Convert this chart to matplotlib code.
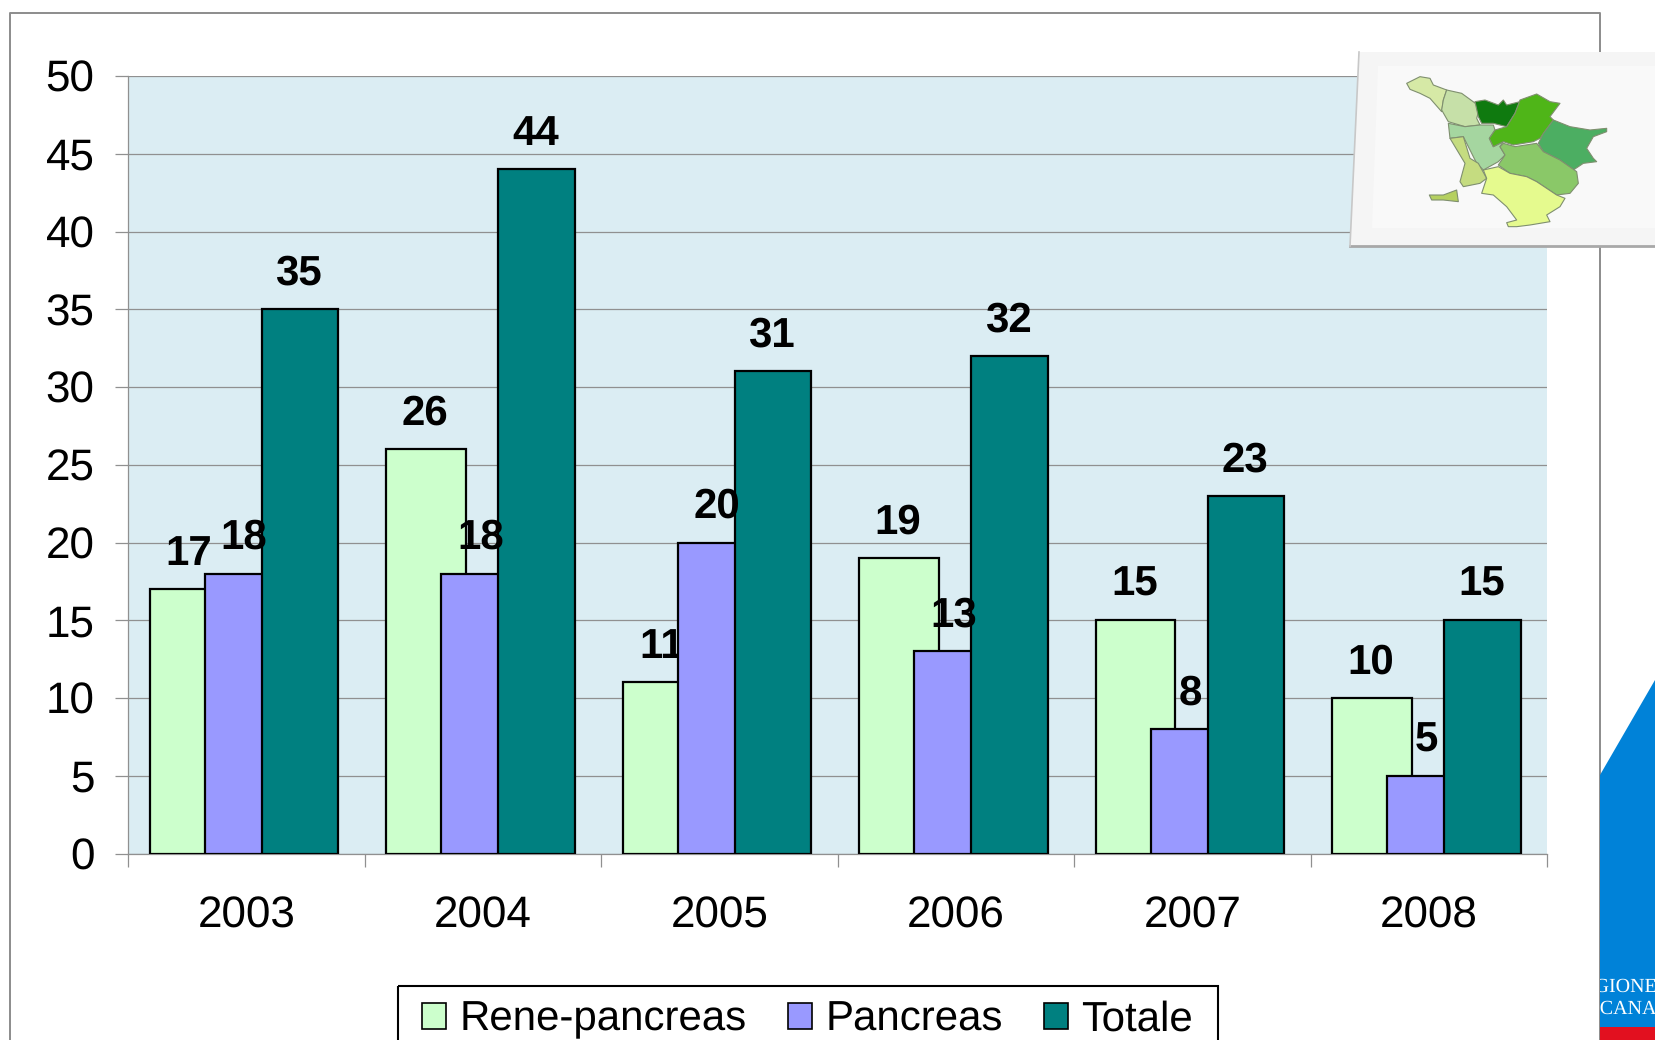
import matplotlib
matplotlib.use('Agg')
import matplotlib.pyplot as plt
from matplotlib.patches import Polygon, Rectangle
import numpy as np

W, H = 1655, 1040
DPI = 100

plt.rcParams['font.family'] = ['Liberation Sans', 'DejaVu Sans']
plt.rcParams['text.hinting'] = 'no_hinting'
plt.rcParams['text.hinting_factor'] = 1

years = ['2003', '2004', '2005', '2006', '2007', '2008']
rene_pancreas = [17, 26, 11, 19, 15, 10]
pancreas = [18, 18, 20, 13, 8, 5]
totale = [35, 44, 31, 32, 23, 15]

series_names = ['Rene-pancreas', 'Pancreas', 'Totale']
series_colors = ['#CCFFCC', '#9999FF', '#008080']
y_ticks = list(range(0, 55, 5))

# map regions (traced in zoom-crop pixels of the inset)
map_regions = [
    ('#d6e9a6', [(230,160),(270,140),(300,145),(310,165),(350,180),(340,210),(335,245),(300,205),(270,190),(240,178)]),
    ('#c6e0a8', [(350,180),(395,190),(450,230),(440,265),(450,285),(405,290),(355,275),(335,240),(340,210)]),
    ('#a5d6a0', [(355,280),(405,290),(450,285),(490,285),(495,300),(478,325),(490,350),(520,335),(510,350),(525,375),(505,395),(460,420),(440,400),(400,320),(360,325)]),
    ('#0f7a0f', [(435,215),(465,210),(505,225),(520,210),(530,225),(570,215),(555,250),(530,290),(490,280),(455,280),(445,260)]),
    ('#4fb518', [(570,210),(620,192),(660,215),(690,220),(660,260),(670,270),(630,325),(610,335),(550,345),(520,335),(490,350),(478,325),(495,300),(530,290),(555,250)]),
    ('#4cae62', [(670,270),(720,290),(780,300),(830,295),(830,305),(790,320),(770,355),(790,385),(800,395),(760,400),(730,420),(690,390),(640,365),(625,340),(640,310)]),
    ('#8ac868', [(520,340),(555,350),(620,340),(640,365),(690,390),(740,425),(745,460),(720,490),(680,495),(620,455),(590,440),(540,430),(505,405),(525,375),(510,350)]),
    ('#c5dc80', [(360,325),(400,320),(420,385),(445,400),(470,445),(450,460),(400,470),(390,455),(405,400)]),
    ('#b5d060', [(298,495),(340,495),(380,480),(385,515),(340,510),(305,510)]),
    ('#e5fa8e', [(460,420),(505,410),(540,430),(590,440),(620,455),(680,495),(705,505),(690,530),(650,555),(660,575),(600,585),(560,590),(535,590),(530,578),(560,570),(530,530),(490,495),(455,490),(470,445)]),
]

fig = plt.figure(figsize=(W / DPI, H / DPI), dpi=DPI, facecolor='white')

# full-figure overlay in pixel coordinates, y downwards
bg = fig.add_axes([0, 0, 1, 1], zorder=0)
bg.set_xlim(0, W)
bg.set_ylim(H, 0)
bg.axis('off')
bg.plot([10, 10, 1599.5, 1599.5], [H, 12.5, 12.5, H], color='#8c8c8c', lw=1.4)

# the chart
L, R, T, B = 128, 1547, 76, 853.5
ax = fig.add_axes([L / W, 1 - B / H, (R - L) / W, (B - T) / H], zorder=1)
ax.set_facecolor('#DBEDF3')
ax.set_xlim(0, len(years))
ax.set_ylim(0, 50)

x = np.arange(len(years))
bar_widths = [0.338, 0.325, 0.325]
offsets = [0.091, 0.325, 0.565]
label_shift = [0.165, 0.165, 0.157]
for i, vals in enumerate([rene_pancreas, pancreas, totale]):
    ax.bar(x + offsets[i], vals, width=bar_widths[i], align='edge', color=series_colors[i],
           edgecolor='black', linewidth=1.6, zorder=3 + i, label=series_names[i])
    # green labels sit under the purple bars, the others on top
    lab_z = 3.5 if i == 0 else 10
    for xi, v in zip(x, vals):
        ax.annotate(str(v), (xi + offsets[i] + label_shift[i], v), xytext=(0, 25.5),
                    textcoords='offset points', ha='center', va='center',
                    fontsize=30, fontweight='bold', color='black', zorder=lab_z)

ax.set_yticks(y_ticks)
ax.tick_params(axis='y', labelsize=31.5, length=9.5, width=0.9, color='#909090', pad=14.5)
for lab in ax.get_yticklabels():
    lab.set_verticalalignment('center_baseline')
ax.set_xticks(np.arange(len(years) + 1))
ax.set_xticklabels([])
ax.tick_params(axis='x', which='major', length=9.5, width=0.9, color='#909090')
ax.set_xticks(x + 0.5, minor=True)
ax.set_xticklabels(years, minor=True)
ax.tick_params(axis='x', which='minor', length=0, labelsize=31.5, pad=30.5)
ax.grid(axis='y', color='#909090', lw=0.9, zorder=1)
ax.set_axisbelow(True)
for side in ['top', 'right']:
    ax.spines[side].set_visible(False)
for side in ['left', 'bottom']:
    ax.spines[side].set_color('#909090')
    ax.spines[side].set_linewidth(0.9)

# legend, runs off the bottom edge like the slide crop
leg = ax.legend(loc='upper left', bbox_to_anchor=(422 / W, 1 - 1000 / H), bbox_transform=fig.transFigure,
                ncol=3, fontsize=29.9, frameon=False, borderaxespad=0, borderpad=0,
                handlelength=0.58, handleheight=0.6, handletextpad=0.33, columnspacing=0.98)
leg.set_zorder(20)
for h in leg.get_patches():
    h.set_edgecolor('black')
    h.set_linewidth(1.2)

# overlay for slide decoration above the chart
fg = fig.add_axes([0, 0, 1, 1], zorder=5)
fg.set_xlim(0, W)
fg.set_ylim(H, 0)
fg.axis('off')
fg.patch.set_alpha(0)

fg.add_patch(Rectangle((398, 986), 820, 70, facecolor='none', edgecolor='black', lw=1.5))

def zx(px):
    return 1330 + px / 3

def zy(py):
    return 30 + py / 3

fg.add_patch(Polygon([(1359, 52), (W, 52), (W, 247), (1350, 247)], closed=True,
                     facecolor='#f5f5f5', edgecolor='none'))
fg.add_patch(Polygon([(1378, 66), (W, 66), (W, 228), (1372, 228)], closed=True,
                     facecolor='#f9f9f9', edgecolor='none'))
fg.plot([1350, W], [246, 246], color='#a8a8a8', lw=2)
fg.plot([1359, 1350], [52, 246], color='#c8c8c8', lw=1.2)
for col, pts in map_regions:
    fg.add_patch(Polygon([(zx(a), zy(b)) for a, b in pts], closed=True, facecolor=col,
                         edgecolor='#7f8f6f', lw=0.8, joinstyle='round'))

# regional logo on the right edge
fg.add_patch(Polygon([(1600, 775), (W, 680), (W, 1028), (1600, 1028)], closed=True,
                     facecolor='#0082D8', edgecolor='none'))
fg.add_patch(Rectangle((1600, 1027), W - 1600, H - 1027, facecolor='#E2101F', edgecolor='none'))
clip = Rectangle((1600, 970), W - 1600, 60, transform=fg.transData)
for label, yy in [('REGIONE', 987), ('TOSCANA', 1009)]:
    t = fg.text(1657, yy, label, ha='right', va='center', family='Liberation Serif',
                fontsize=14.5, color='white')
    t.set_clip_path(clip)
    t.set_clip_on(True)

fig.savefig('out.png', dpi=DPI)
